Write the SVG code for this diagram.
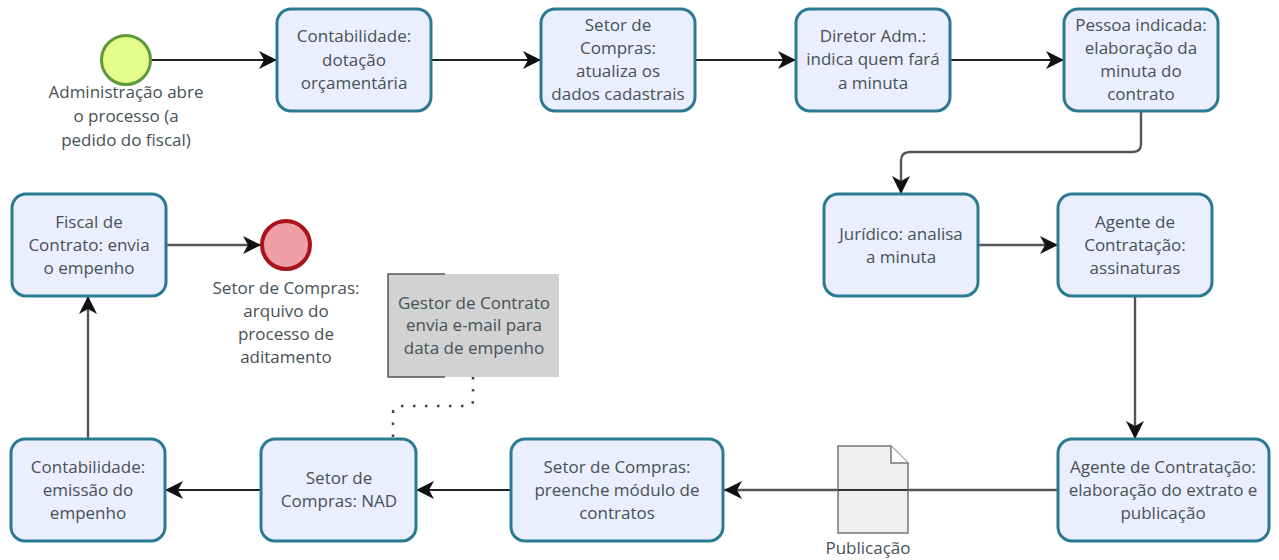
<svg xmlns="http://www.w3.org/2000/svg" width="1279" height="560" viewBox="0 0 1279 560">
<defs>
<style>
text{font-family:"Open Sans","Noto Sans","DejaVu Sans",sans-serif;font-size:17px;fill:#465156;text-anchor:middle}
.task{fill:#ebeffd;stroke:#2b7a94;stroke-width:3}
.c{fill:none;stroke:#222;stroke-width:2}
.g{fill:none;stroke:#555;stroke-width:2.4}
</style>
<marker id="a" markerUnits="userSpaceOnUse" markerWidth="20" markerHeight="20" refX="18" refY="10" orient="auto"><path d="M0 1L18 10L0 19L5 10Z" fill="#111"/></marker>
</defs>
<rect width="1279" height="560" fill="#fff"/>
<g id="connectors">
<path class="c" d="M151 60H277" marker-end="url(#a)"/>
<path class="c" d="M431 60H541" marker-end="url(#a)"/>
<path class="c" d="M695 60H796" marker-end="url(#a)"/>
<path class="c" d="M950 60H1064" marker-end="url(#a)"/>
<path class="g" d="M1141 111V144Q1141 152 1133 152H910Q901 152 901 161V194" marker-end="url(#a)"/>
<path class="g" d="M977 245H1058" marker-end="url(#a)"/>
<path class="g" d="M1135 296V439" marker-end="url(#a)"/>
<path class="g" d="M1058 490H724" marker-end="url(#a)"/>
<path class="c" d="M511 490H416" marker-end="url(#a)"/>
<path class="c" d="M261 490H165" marker-end="url(#a)"/>
<path class="g" d="M88 439V296" marker-end="url(#a)"/>
<path class="g" d="M166 245H261" marker-end="url(#a)"/>
<path d="M473 377V400Q473 406 467 406H400Q393 406 393 413V438" fill="none" stroke="#444" stroke-width="2.5" stroke-dasharray="2.5 9.5"/>
</g>
<g id="start"><circle cx="126" cy="60" r="24.5" fill="#e5fb8c" stroke="#5c9a3a" stroke-width="3"/><text x="126" y="98">Administração abre</text><text x="126" y="122">o processo (a</text><text x="126" y="146">pedido do fiscal)</text></g>
<g id="t1"><rect class="task" x="277" y="9" width="154" height="102" rx="14"/><text x="354" y="42">Contabilidade:</text><text x="354" y="66">dotação</text><text x="354" y="89">orçamentária</text></g>
<g id="t2"><rect class="task" x="541" y="9" width="154" height="102" rx="14"/><text x="618" y="31">Setor de</text><text x="618" y="54">Compras:</text><text x="618" y="77">atualiza os</text><text x="618" y="100">dados cadastrais</text></g>
<g id="t3"><rect class="task" x="796" y="9" width="154" height="102" rx="14"/><text x="873" y="42">Diretor Adm.:</text><text x="873" y="65">indica quem fará</text><text x="873" y="89">a minuta</text></g>
<g id="t4"><rect class="task" x="1064" y="9" width="154" height="102" rx="14"/><text x="1141" y="31">Pessoa indicada:</text><text x="1141" y="54">elaboração da</text><text x="1141" y="77">minuta do</text><text x="1141" y="100">contrato</text></g>
<g id="t5"><rect class="task" x="824" y="194" width="154" height="102" rx="14"/><text x="901" y="240">Jurídico: analisa</text><text x="901" y="263">a minuta</text></g>
<g id="t6"><rect class="task" x="1058" y="194" width="154" height="102" rx="14"/><text x="1135" y="228">Agente de</text><text x="1135" y="251">Contratação:</text><text x="1135" y="274">assinaturas</text></g>
<g id="t7"><rect class="task" x="1058" y="439" width="211" height="102" rx="14"/><text x="1163" y="473">Agente de Contratação:</text><text x="1163" y="496">elaboração do extrato e</text><text x="1163" y="519">publicação</text></g>
<g id="doc"><path d="M838 446H891L908 463V533H838Z" fill="#efefef" stroke="#777" stroke-width="1.5"/><path d="M891 446V463H908" fill="#fff" stroke="#777" stroke-width="1.5"/><path d="M838 490H908" stroke="#333" stroke-width="2"/><text x="868" y="554">Publicação</text></g>
<g id="t8"><rect class="task" x="511" y="439" width="212" height="102" rx="14"/><text x="617" y="473">Setor de Compras:</text><text x="617" y="496">preenche módulo de</text><text x="617" y="519">contratos</text></g>
<g id="t9"><rect class="task" x="261" y="439" width="155" height="102" rx="14"/><text x="339" y="484">Setor de</text><text x="339" y="507">Compras: NAD</text></g>
<g id="t10"><rect class="task" x="11" y="439" width="154" height="102" rx="14"/><text x="88" y="473">Contabilidade:</text><text x="88" y="496">emissão do</text><text x="88" y="519">empenho</text></g>
<g id="t11"><rect class="task" x="12" y="194" width="154" height="102" rx="14"/><text x="89" y="228">Fiscal de</text><text x="89" y="251">Contrato: envia</text><text x="89" y="274">o empenho</text></g>
<g id="end"><circle cx="286" cy="245" r="24" fill="#ee9fa5" stroke="#a9141c" stroke-width="4"/><text x="286" y="294">Setor de Compras:</text><text x="286" y="317">arquivo do</text><text x="286" y="340">processo de</text><text x="286" y="363">aditamento</text></g>
<g id="note"><rect x="388" y="274" width="171" height="103" fill="#d2d2d2"/><path d="M445 274H388V377H445" fill="none" stroke="#555" stroke-width="1.5"/><text x="474" y="309">Gestor de Contrato</text><text x="474" y="331">envia e-mail para</text><text x="474" y="354">data de empenho</text></g>
</svg>
